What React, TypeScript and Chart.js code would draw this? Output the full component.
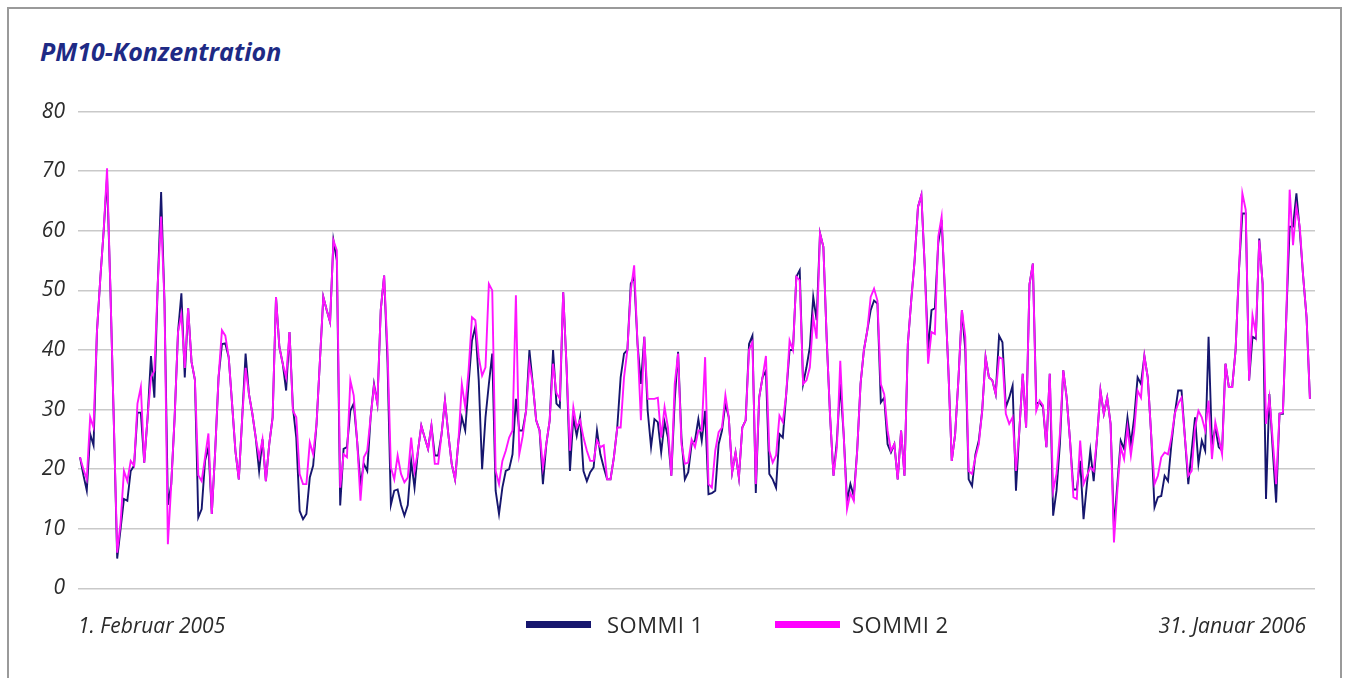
import React, { useEffect, useRef } from "react";
import { Chart, registerables } from "chart.js";

Chart.register(...registerables);

const TITLE = "PM10-Konzentration";
const START_LABEL = "1. Februar 2005";
const END_LABEL = "31. Januar 2006";
const SERIES_NAMES = ["SOMMI 1", "SOMMI 2"];
const Y_TICKS = [0, 10, 20, 30, 40, 50, 60, 70, 80];

// daily PM10 values, 1 Feb 2005 .. 31 Jan 2006
const SOMMI1 = [
  22, 19, 16.4, 25.9, 24, 43, 52, 60, 69, 50, 28, 5, 10, 15, 14.7, 19.7, 20.6, 29.5, 29.5, 21.1,
  28.7, 39, 32, 51, 66.5, 48, 14, 17.5, 28.7, 43, 49.5, 35.4, 47, 38, 35, 11.9, 13.3, 21.4, 23.7, 12.5,
  23, 35.4, 41, 41.1, 38.8, 31, 23, 18.3, 28.7, 39.4, 32.6, 29.3, 25.3, 19.7, 25, 18, 24.2, 28.7, 48.9, 40.5,
  37.7, 33.2, 43, 30.4, 25.3, 13, 11.6, 12.5, 18.6, 20.6, 27.6, 38.2, 48.9, 46.7, 44.7, 58.4, 55, 13.9, 23.4, 23.7,
  29.8, 31, 24.8, 17.5, 20.9, 19.7, 28.7, 34.3, 31, 46.7, 52.5, 38, 14, 16.4, 16.6, 14, 12.2, 14, 21.4, 16.9,
  23, 27.3, 25.3, 23.4, 27.3, 22.3, 22.3, 25.9, 31.5, 25.9, 20.9, 18.3, 24.8, 28.7, 26.5, 34.3, 41.6, 43.9, 34.9, 20,
  28.7, 34.3, 39.4, 16.4, 12.5, 16.9, 19.7, 20, 22.5, 31.8, 26.5, 26.5, 29.8, 40, 34.3, 28.2, 26.5, 17.5, 24.2, 28.2,
  40, 31, 30.4, 49.7, 37.1, 19.7, 28.7, 25.6, 28.7, 19.7, 18, 19.5, 20.3, 26.5, 22.5, 20.3, 18.3, 18.3, 22, 27,
  35.4, 39.4, 40, 51.1, 52.3, 41, 34.3, 42.2, 29.8, 23.7, 28.4, 27.9, 22.8, 27.9, 25.3, 18.9, 31.5, 39.7, 25.3, 18.3,
  19.5, 24.2, 24.8, 28.4, 24.8, 29.8, 15.8, 16, 16.4, 24.2, 26.5, 31, 28.7, 19.5, 22.8, 18.6, 27, 28.2, 41, 42.4,
  16, 32, 35.4, 36.5, 19.2, 18.3, 16.9, 25.9, 25.3, 32.6, 40, 40, 52.3, 53.4, 34.3, 37.1, 40.5, 48.9, 45, 59.6,
  57.3, 41.6, 28.7, 18.9, 24.8, 34.3, 25.9, 14.7, 17.5, 15.5, 23.1, 34.3, 40, 43.3, 46.7, 48.3, 47.8, 31.2, 32, 24.2,
  22.8, 24.2, 18.3, 26.5, 18.9, 41, 48.3, 55, 64, 66, 54, 40, 46.7, 47, 57.9, 61.8, 49.5, 36.6, 21.4, 25.9,
  35.4, 46.7, 40, 18.3, 17.2, 22.5, 24.8, 29.8, 38.8, 35.4, 34.9, 32.6, 42.4, 41.3, 30.4, 32, 34, 16.4, 26.5, 36,
  27, 51, 54.5, 31, 31.2, 30.4, 23.7, 36, 12.2, 16.4, 24.2, 36.6, 32, 24.8, 16.6, 16.6, 21.4, 11.6, 17.5, 23.1,
  18, 25.3, 33.2, 29.3, 32, 27.6, 10.2, 17.5, 24.8, 23.4, 28.7, 24.2, 28.7, 35.4, 34.3, 39, 35.4, 25.9, 13.6, 15.3,
  15.5, 18.9, 18, 24.2, 29.3, 33.2, 33.2, 25.3, 17.5, 23.1, 28.7, 20.9, 24.8, 23.1, 42.2, 24.2, 27, 23.7, 23.1, 37.7,
  33.8, 33.8, 40, 53.4, 62.9, 62.9, 34.9, 42.2, 41.9, 58.7, 51.1, 15, 32.6, 23.1, 14.4, 29.3, 29.3, 45.5, 60.7, 60.7,
  66.3, 60, 52.3, 45.5, 31.8,
];

const SOMMI2 = [
  22, 20, 18.3, 28.7, 27, 43, 52, 60, 70.5, 50, 28, 6, 11, 19.7, 18, 21.4, 20.6, 31, 33.8, 21.1,
  28.7, 35.4, 36.5, 51, 62.4, 48, 7.4, 17.5, 28.7, 43, 46, 37, 47, 38, 35, 19, 18, 22, 26, 12.5,
  23, 35.4, 43.3, 42.4, 38.8, 31, 23, 18.3, 28.7, 37, 32.6, 29.3, 25.3, 22, 25, 18, 24.2, 28.7, 48.9, 40.5,
  37.7, 35.4, 43, 29.8, 28.7, 19.2, 17.5, 17.5, 24.5, 22.5, 27.6, 38.2, 48.9, 46.7, 44.7, 58.4, 56.7, 16.9, 22.5, 22,
  34.9, 32.4, 24.8, 14.7, 22, 23.1, 28.7, 34, 31, 46.7, 52.5, 40, 20.3, 18.3, 22.3, 19.2, 17.8, 18.6, 25.3, 19.7,
  23, 27.3, 25.3, 23.4, 27.3, 20.9, 20.9, 25.9, 31.5, 25.9, 20.9, 18.3, 24.8, 34.3, 30.4, 36.6, 45.5, 45, 38.8, 35.7,
  37.1, 51.1, 50, 19.7, 17.5, 21.4, 23.1, 25.3, 26.5, 49.2, 22.5, 25.5, 29.8, 37.7, 34.3, 28.2, 26.5, 20.3, 24.2, 28.2,
  37.7, 32.8, 31.8, 49.7, 37.1, 23.1, 30.4, 27, 28.2, 25.3, 23.1, 21.4, 21.4, 24.8, 23.7, 24, 18.3, 18.3, 22, 27,
  27, 35.4, 40, 50, 54.2, 41, 28.2, 42.2, 31.8, 31.8, 31.8, 32, 25.3, 30.4, 27, 18.9, 34.3, 39.4, 24.2, 20.9,
  21.1, 25, 23.7, 26.5, 26.5, 38.8, 17.5, 16.9, 23.1, 26.2, 27, 32.4, 28.7, 19.5, 22.8, 18.6, 27, 28.2, 40, 41.3,
  17.5, 32, 35.4, 39, 23.1, 21.1, 22.3, 29, 27.9, 32.6, 41.6, 40, 52.3, 51.7, 34.3, 34.9, 37.1, 45.5, 41.9, 59.6,
  57.3, 41.6, 28.7, 18.9, 23.7, 38.2, 25.9, 13.3, 16, 14.7, 23.1, 34.3, 40, 43.3, 48.9, 50.3, 48.3, 34.3, 32.6, 26.5,
  23.1, 24.2, 18.3, 26.5, 18.9, 41, 48.3, 55, 64, 66, 54, 37.7, 43, 42.7, 59, 62.4, 49.5, 36.6, 21.4, 25.9,
  35.4, 46.7, 42.2, 19.7, 19.2, 22, 24.2, 29.8, 38.8, 35.4, 34.9, 32.6, 38.8, 38.5, 29.3, 27.6, 28.7, 19.7, 26.5, 36,
  27, 51, 54.5, 29.8, 31.5, 30.7, 23.7, 36, 16.4, 19.2, 25.9, 36.6, 32, 24.8, 15.3, 15, 24.8, 17.5, 18.9, 20.3,
  19.7, 25.3, 33.2, 29.3, 32, 27.6, 7.7, 16.4, 23.7, 21.7, 27, 22.3, 26.5, 33.2, 32, 39, 35.4, 25.9, 17.5, 18.9,
  22, 22.8, 22.5, 25.3, 29.3, 31, 32, 25.3, 18.9, 19.7, 27, 29.8, 28.7, 26.5, 31.5, 21.7, 27.9, 25.3, 22.5, 37.7,
  33.8, 33.8, 40, 53.4, 66.3, 63.5, 34.9, 45.8, 42.7, 58.4, 51.1, 27.6, 32, 24.8, 17.5, 29.3, 29.5, 45.5, 66.9, 57.6,
  64, 60.7, 52.3, 45.5, 31.8,
];

const NAVY = "#16166e";
const MAGENTA = "#ff14ff";
const TEXT = "#2b2b2b";
const FONT = "'Open Sans', 'Noto Sans', sans-serif";

export default function App() {
  const ref = useRef<HTMLCanvasElement | null>(null);

  useEffect(() => {
    const canvas = ref.current;
    if (!canvas) return;
    const chart = new Chart(canvas, {
      type: "line",
      data: {
        datasets: [
          {
            label: SERIES_NAMES[1],
            data: SOMMI2.map((v, i) => ({ x: i, y: v })),
            borderColor: MAGENTA,
            borderWidth: 1.9,
            pointRadius: 0,
            tension: 0,
            order: 0,
          },
          {
            label: SERIES_NAMES[0],
            data: SOMMI1.map((v, i) => ({ x: i, y: v })),
            borderColor: NAVY,
            borderWidth: 1.9,
            pointRadius: 0,
            tension: 0,
            order: 1,
          },
        ],
      },
      options: {
        animation: false,
        responsive: false,
        devicePixelRatio: 1,
        layout: { padding: { left: 0, right: 19, top: 0, bottom: 0 } },
        plugins: { legend: { display: false }, tooltip: { enabled: false } },
        scales: {
          x: {
            type: "linear",
            min: -0.6,
            max: SOMMI1.length + 0.5,
            display: false,
          },
          y: {
            min: 0,
            max: 80,
            afterBuildTicks: (scale: any) => {
              scale.ticks = Y_TICKS.map((v) => ({ value: v }));
            },
            afterFit: (scale: any) => {
              scale.width = 69;
            },
            border: { display: false },
            grid: { color: "#c9c9c9", lineWidth: 1.5, drawTicks: false },
            ticks: {
              padding: 13,
              color: TEXT,
              font: { family: FONT, size: 21, style: "italic" },
            },
          },
        },
      },
    });
    return () => chart.destroy();
  }, []);

  const abs = (l: number, t: number): React.CSSProperties => ({
    position: "absolute",
    left: l - 9,
    top: t - 9,
    whiteSpace: "nowrap",
  });

  const bottomText: React.CSSProperties = {
    fontSize: 21,
    color: TEXT,
    lineHeight: "28px",
  };

  return (
    <div
      style={{
        position: "absolute",
        left: 7,
        top: 7,
        width: 1335,
        height: 671,
        boxSizing: "border-box",
        border: "2px solid #9a9a9a",
        borderBottom: "none",
        background: "#fff",
        fontFamily: FONT,
      }}
    >
      <div
        style={{
          ...abs(40, 35),
          fontSize: 25,
          fontWeight: 700,
          fontStyle: "italic",
          color: "#1e2a85",
          lineHeight: "32px",
        }}
      >
        {TITLE}
      </div>
      <canvas ref={ref} width={1325} height={528} style={{ ...abs(9, 86), display: "block" }} />
      <div style={{ ...abs(78, 611), ...bottomText, fontStyle: "italic" }}>{START_LABEL}</div>
      <div
        style={{
          position: "absolute",
          right: 1338 - 1304,
          top: 611 - 9,
          ...bottomText,
          fontStyle: "italic",
          whiteSpace: "nowrap",
        }}
      >
        {END_LABEL}
      </div>
      <div style={{ ...abs(526, 621), width: 65, height: 7, background: NAVY }} />
      <div style={{ ...abs(607, 610), ...bottomText, fontSize: 22, letterSpacing: 0.5 }}>{SERIES_NAMES[0]}</div>
      <div style={{ ...abs(775, 621), width: 65, height: 7, background: "#ff00ff" }} />
      <div style={{ ...abs(852, 610), ...bottomText, fontSize: 22, letterSpacing: 0.5 }}>{SERIES_NAMES[1]}</div>
    </div>
  );
}
